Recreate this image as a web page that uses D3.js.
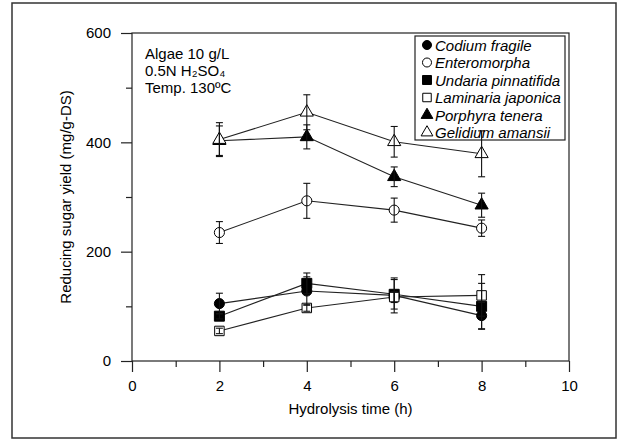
<!DOCTYPE html>
<html>
<head>
<meta charset="utf-8">
<script src="https://cdn.jsdelivr.net/npm/d3@7"></script>
<style>
  body { margin: 0; background: #fff; }
  svg { display: block; font-family: "Liberation Sans", Arial, sans-serif; }
  .tick-label { font-size: 15px; fill: #000; }
</style>
</head>
<body>
<div id="chart"></div>
<script>
// --------------------------------------------------------- Data variables
var times      = [2, 4, 6, 8];
var xTicks     = [0, 2, 4, 6, 8, 10];
var yTicks     = [0, 200, 400, 600];

var codium     = [105, 128, 120, 83],   codiumErr     = [19, 26, 32, 24];
var entero     = [235, 293, 276, 243],  enteroErr     = [20, 32, 22, 15];
var undaria    = [82, 142, 122, 100],   undariaErr    = [5, 19, 27, 42];
var laminaria  = [55, 97, 117, 120],    laminariaErr  = [5, 6, 10, 38];
var porphyra   = [403, 410, 337, 285],  porphyraErr   = [27, 22, 18, 22];
var gelidium   = [405, 455, 401, 379],  gelidiumErr   = [31, 32, 28, 42];

var seriesNames = ['Codium fragile', 'Enteromorpha', 'Undaria pinnatifida',
                   'Laminaria japonica', 'Porphyra tenera', 'Gelidium amansii'];
// -------------------------------------------------------- /Data variables

var series = [
  {name: seriesNames[0], values: codium,    err: codiumErr,    shape: d3.symbolCircle,   size: 80, filled: true},
  {name: seriesNames[1], values: entero,    err: enteroErr,    shape: d3.symbolCircle,   size: 80, filled: false},
  {name: seriesNames[2], values: undaria,   err: undariaErr,   shape: d3.symbolSquare,   size: 100, filled: true},
  {name: seriesNames[3], values: laminaria, err: laminariaErr, shape: d3.symbolSquare,   size: 90, filled: false},
  {name: seriesNames[4], values: porphyra,  err: porphyraErr,  shape: d3.symbolTriangle, size: 75, filled: true},
  {name: seriesNames[5], values: gelidium,  err: gelidiumErr,  shape: d3.symbolTriangle, size: 75, filled: false}
];

var width = 618, height = 441;
var plot = {left: 132, right: 569, top: 33, bottom: 361};

var x = d3.scaleLinear().domain([0, 10]).range([plot.left, plot.right]);
var y = d3.scaleLinear().domain([0, 600]).range([plot.bottom, plot.top]);

var svg = d3.select('#chart').append('svg')
    .attr('width', width)
    .attr('height', height);

// outer border
svg.append('rect')
    .attr('x', 12).attr('y', 3)
    .attr('width', 604).attr('height', 435)
    .attr('fill', 'none')
    .attr('stroke', '#333')
    .attr('stroke-width', 1.5);

// frame
svg.append('rect')
    .attr('x', plot.left).attr('y', plot.top)
    .attr('width', plot.right - plot.left)
    .attr('height', plot.bottom - plot.top)
    .attr('fill', 'none')
    .attr('stroke', '#222')
    .attr('stroke-width', 1.2);

// x axis
var xAxis = d3.axisBottom(x)
    .tickValues(xTicks)
    .tickSize(11)
    .tickPadding(8)
    .tickFormat(d3.format('d'));

var xg = svg.append('g')
    .attr('transform', 'translate(0,' + plot.bottom + ')')
    .call(xAxis);
xg.select('.domain').remove();
xg.selectAll('line').attr('stroke', '#222').attr('stroke-width', 1.2);
xg.selectAll('text').attr('class', 'tick-label').attr('font-family', null).attr('font-size', null);

var xMinor = svg.append('g')
    .attr('transform', 'translate(0,' + plot.bottom + ')')
    .call(d3.axisBottom(x).tickValues([1, 3, 5, 7, 9]).tickSize(6).tickFormat(''));
xMinor.select('.domain').remove();
xMinor.selectAll('line').attr('stroke', '#222').attr('stroke-width', 1.2);

// y axis
var yAxis = d3.axisLeft(y)
    .tickValues(yTicks)
    .tickSize(11)
    .tickPadding(10)
    .tickFormat(d3.format('d'));

var yg = svg.append('g')
    .attr('transform', 'translate(' + plot.left + ',0)')
    .call(yAxis);
yg.select('.domain').remove();
yg.selectAll('line').attr('stroke', '#222').attr('stroke-width', 1.2);
yg.selectAll('text').attr('class', 'tick-label').attr('font-family', null).attr('font-size', null);

var yMinor = svg.append('g')
    .attr('transform', 'translate(' + plot.left + ',0)')
    .call(d3.axisLeft(y).tickValues([100, 300, 500]).tickSize(6).tickFormat(''));
yMinor.select('.domain').remove();
yMinor.selectAll('line').attr('stroke', '#222').attr('stroke-width', 1.2);

// axis titles
svg.append('text')
    .attr('x', (plot.left + plot.right) / 2)
    .attr('y', 414)
    .attr('text-anchor', 'middle')
    .attr('font-size', 15)
    .text('Hydrolysis time (h)');

svg.append('text')
    .attr('transform', 'translate(71,' + (plot.top + plot.bottom) / 2 + ') rotate(-90)')
    .attr('text-anchor', 'middle')
    .attr('font-size', 15)
    .text('Reducing sugar yield (mg/g-DS)');

// conditions note
var note = svg.append('g').attr('font-size', 15);
note.append('text').attr('x', 145).attr('y', 59).text('Algae 10 g/L');
note.append('text').attr('x', 145).attr('y', 76).text('0.5N H\u2082SO\u2084');
note.append('text').attr('x', 145).attr('y', 93).text('Temp. 130\u00BAC');

// legend (drawn under the marks, an error bar crosses it)
var legend = svg.append('g');
legend.append('rect')
    .attr('x', 415).attr('y', 36)
    .attr('width', 150).attr('height', 104)
    .attr('fill', '#fff')
    .attr('stroke', '#222')
    .attr('stroke-width', 1.2);

series.forEach(function(s, i) {
  var cy = 45 + i * 17.5;
  legend.append('path')
      .attr('transform', 'translate(427,' + cy + ')')
      .attr('d', d3.symbol().type(s.shape).size(s.size * 0.8))
      .attr('fill', s.filled ? '#000' : '#fff')
      .attr('stroke', '#000')
      .attr('stroke-width', 1);
  legend.append('text')
      .attr('x', 435)
      .attr('y', cy + 5.5)
      .attr('font-size', 15)
      .attr('font-style', 'italic')
      .text(s.name);
});

// series
var line = d3.line()
    .x(function(d) { return x(d.t); })
    .y(function(d) { return y(d.v); });

var points = function(s) {
  return times.map(function(t, i) { return {t: t, v: s.values[i], e: s.err[i]}; });
};

var lines = svg.append('g');
series.forEach(function(s) {
  lines.append('path')
      .datum(points(s))
      .attr('d', line)
      .attr('fill', 'none')
      .attr('stroke', '#222')
      .attr('stroke-width', 1.1);
});

var marks = svg.append('g');
series.forEach(function(s) {
  var g = marks.append('g');
  g.selectAll('path')
      .data(points(s))
    .enter().append('path')
      .attr('transform', function(d) { return 'translate(' + x(d.t) + ',' + y(d.v) + ')'; })
      .attr('d', d3.symbol().type(s.shape).size(s.size))
      .attr('fill', s.filled ? '#000' : '#fff')
      .attr('stroke', '#000')
      .attr('stroke-width', 1);
});

var errs = svg.append('g').attr('stroke', '#111').attr('stroke-width', 1.1);
series.forEach(function(s) {
  points(s).forEach(function(d) {
    var cx = x(d.t), cap = 3.5;
    errs.append('line')
        .attr('x1', cx).attr('x2', cx)
        .attr('y1', y(d.v + d.e)).attr('y2', y(d.v - d.e));
    [d.v + d.e, d.v - d.e].forEach(function(v) {
      errs.append('line')
          .attr('x1', cx - cap).attr('x2', cx + cap)
          .attr('y1', y(v)).attr('y2', y(v));
    });
  });
});
</script>
</body>
</html>
